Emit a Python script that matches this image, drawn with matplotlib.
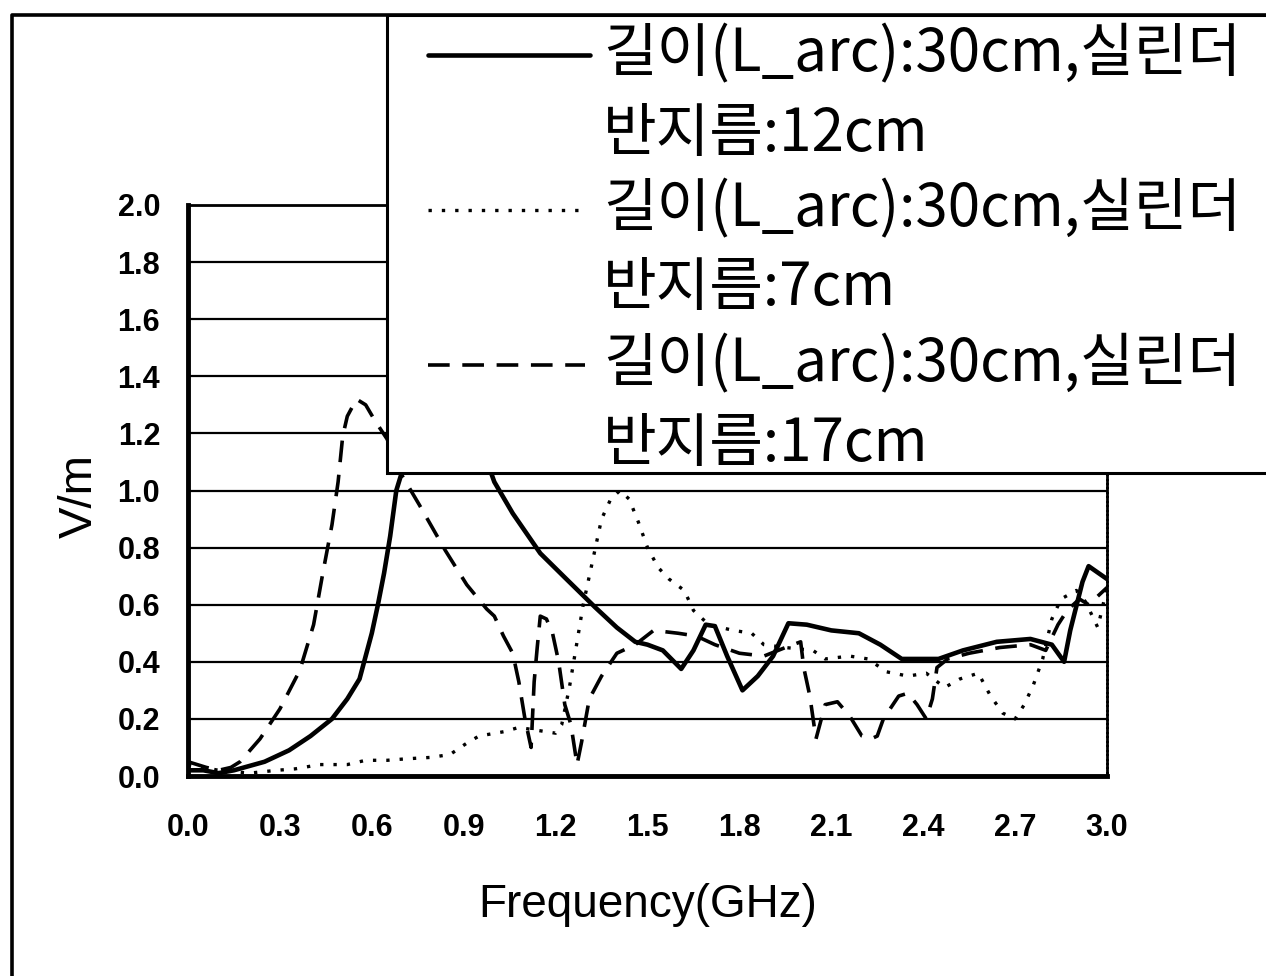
import matplotlib
matplotlib.use("Agg")
import matplotlib.pyplot as plt
from matplotlib.lines import Line2D
from matplotlib.patches import Rectangle

# --- data (frequency in GHz, field in V/m) ---
freq_12 = [0.00, 0.05, 0.10, 0.15, 0.20, 0.25, 0.33, 0.40, 0.47, 0.52, 0.56,
           0.60, 0.62, 0.64, 0.66, 0.68, 0.70, 0.72, 0.78, 0.85, 0.92, 0.97,
           1.00, 1.06, 1.15, 1.235, 1.33, 1.40, 1.46, 1.50, 1.55, 1.61, 1.65,
           1.69, 1.72, 1.76, 1.81, 1.86, 1.91, 1.96, 2.02, 2.10, 2.19, 2.26,
           2.33, 2.45, 2.53, 2.64, 2.75, 2.82, 2.86, 2.88, 2.92, 2.94, 2.98,
           3.00]
field_12 = [0.02, 0.02, 0.01, 0.02, 0.035, 0.05, 0.09, 0.14, 0.20, 0.27, 0.34,
            0.50, 0.60, 0.71, 0.84, 1.00, 1.07, 1.15, 1.40, 1.45, 1.30, 1.12,
            1.03, 0.92, 0.78, 0.69, 0.59, 0.52, 0.47, 0.46, 0.44, 0.375, 0.44,
            0.53, 0.525, 0.42, 0.30, 0.35, 0.42, 0.535, 0.53, 0.51, 0.50, 0.46,
            0.41, 0.41, 0.44, 0.47, 0.48, 0.46, 0.40, 0.51, 0.68, 0.735, 0.705,
            0.69]

freq_7 = [0.00, 0.05, 0.10, 0.20, 0.29, 0.35, 0.43, 0.52, 0.58, 0.65, 0.71,
          0.79, 0.855, 0.91, 0.95, 1.03, 1.08, 1.14, 1.20, 1.22, 1.245, 1.27,
          1.29, 1.31, 1.33, 1.35, 1.38, 1.41, 1.44, 1.47, 1.50, 1.535, 1.57,
          1.62, 1.65, 1.70, 1.78, 1.84, 1.88, 1.95, 2.04, 2.08, 2.16, 2.22,
          2.28, 2.35, 2.41, 2.47, 2.52, 2.58, 2.62, 2.66, 2.70, 2.73, 2.76,
          2.79, 2.82, 2.85, 2.90, 2.93, 2.97, 3.00]
field_7 = [0.04, 0.03, 0.02, 0.01, 0.02, 0.025, 0.04, 0.04, 0.055, 0.055, 0.06,
           0.065, 0.075, 0.115, 0.14, 0.155, 0.17, 0.16, 0.15, 0.18, 0.31, 0.47,
           0.60, 0.70, 0.80, 0.90, 0.97, 1.00, 0.97, 0.89, 0.80, 0.73, 0.69,
           0.65, 0.58, 0.53, 0.51, 0.50, 0.46, 0.45, 0.44, 0.41, 0.42, 0.41,
           0.365, 0.35, 0.36, 0.31, 0.34, 0.36, 0.28, 0.22, 0.20, 0.25, 0.32,
           0.41, 0.55, 0.62, 0.65, 0.61, 0.52, 0.66]

freq_17 = [0.00, 0.03, 0.06, 0.10, 0.14, 0.17, 0.235, 0.30, 0.365, 0.41, 0.44,
           0.47, 0.49, 0.505, 0.52, 0.55, 0.58, 0.61, 0.65, 0.70, 0.755, 0.84,
           0.91, 0.975, 1.00, 1.03, 1.06, 1.08, 1.10, 1.12, 1.13, 1.14, 1.15,
           1.17, 1.19, 1.21, 1.23, 1.25, 1.27, 1.285, 1.31, 1.35, 1.40, 1.46,
           1.52, 1.60, 1.66, 1.72, 1.80, 1.88, 1.95, 2.00, 2.01, 2.03, 2.05,
           2.08, 2.12, 2.16, 2.20, 2.23, 2.25, 2.27, 2.32, 2.35, 2.38, 2.41,
           2.43, 2.445, 2.48, 2.55, 2.65, 2.75, 2.80, 2.84, 2.87, 2.91, 2.94,
           3.00]
field_17 = [0.05, 0.04, 0.03, 0.02, 0.03, 0.05, 0.13, 0.235, 0.37, 0.53, 0.71,
            0.88, 1.03, 1.19, 1.26, 1.32, 1.30, 1.245, 1.18, 1.05, 0.95, 0.79,
            0.67, 0.585, 0.56, 0.49, 0.43, 0.33, 0.20, 0.10, 0.33, 0.45, 0.56,
            0.55, 0.50, 0.40, 0.25, 0.18, 0.04, 0.12, 0.27, 0.35, 0.43, 0.46,
            0.51, 0.50, 0.49, 0.46, 0.43, 0.42, 0.45, 0.47, 0.38, 0.28, 0.13,
            0.25, 0.26, 0.21, 0.14, 0.13, 0.14, 0.20, 0.28, 0.29, 0.25, 0.20,
            0.27, 0.38, 0.41, 0.43, 0.45, 0.46, 0.44, 0.53, 0.58, 0.62, 0.60,
            0.66]

labels = ["길이(L_arc):30cm,실린더\n반지름:12cm",
          "길이(L_arc):30cm,실린더\n반지름:7cm",
          "길이(L_arc):30cm,실린더\n반지름:17cm"]

W, H = 1266, 976


def fx(px):
    return px / W


def fy(py):
    return 1 - py / H


fig = plt.figure(figsize=(W / 100, H / 100), dpi=100)
ax = fig.add_axes([fx(188), fy(776), fx(1107) - fx(188), fy(205) - fy(776)])

solid = dict(color="black", lw=3.3, solid_capstyle="round")
dotted = dict(color="black", lw=2.4, linestyle=(0, (1, 3)))
dashed = dict(color="black", lw=2.6, linestyle=(0, (6, 3.5)))

ax.plot(freq_12, field_12, **solid, zorder=3)
ax.plot(freq_7, field_7, **dotted, zorder=3)
ax.plot(freq_17, field_17, **dashed, zorder=3)

ax.set_xlim(0, 3.0)
ax.set_ylim(0, 2.0)
ax.set_xticks([i * 0.3 for i in range(11)])
ax.set_xticklabels([f"{i * 0.3:.1f}" for i in range(11)])
ax.set_yticks([i * 0.2 for i in range(11)])
ax.set_yticklabels([f"{i * 0.2:.1f}" for i in range(11)])
ax.yaxis.grid(True, color="black", lw=1.6)
ax.set_axisbelow(True)
ax.tick_params(length=0, labelsize=22)
ax.tick_params(axis="x", pad=27)
ax.tick_params(axis="y", pad=20)
for lab in ax.get_xticklabels() + ax.get_yticklabels():
    lab.set_fontfamily("Liberation Sans")
    lab.set_fontweight("bold")

ax.spines["left"].set_linewidth(3.5)
ax.spines["bottom"].set_linewidth(3.5)
ax.spines["top"].set_linewidth(2.0)
ax.spines["right"].set_linewidth(2.0)
ax.spines["right"].set_linestyle((0, (1, 0.6)))

ax.set_xlabel("Frequency(GHz)", fontsize=33, family="Liberation Sans")
ax.xaxis.set_label_coords(0.5, -(883 - 776) / 571)
ax.set_ylabel("V/m", fontsize=34, family="Liberation Sans", va="center")
ax.yaxis.set_label_coords(-(188 - 80) / 919, 0.49)

# outer frame of the scanned figure (left and top edges only)
fig.add_artist(Line2D([fx(12), fx(12), 1.01], [0, fy(15), fy(15)],
                      transform=fig.transFigure, color="black", lw=2.6))

# legend box (covers the top of the plot)
fig.add_artist(Rectangle((fx(387), fy(473)), 1.2, fy(15) - fy(473),
                         transform=fig.transFigure, facecolor="white",
                         edgecolor="black", lw=2.2, clip_on=False, zorder=5))

kor = ["Noto Sans CJK KR", "DejaVu Sans"]
styles = [solid, dotted, dashed]
rows = [55, 210, 365]
ends = [590, 580, 585]
for style, row, end, text in zip(styles, rows, ends, labels):
    fig.add_artist(Line2D([fx(428), fx(end)], [fy(row), fy(row)],
                          transform=fig.transFigure, zorder=6, **style))
    first, second = text.split("\n")
    fig.text(fx(603), fy(row), first, fontsize=42, family=kor,
             va="center", ha="left", zorder=6)
    fig.text(fx(603), fy(row + 79), second, fontsize=42, family=kor,
             va="center", ha="left", zorder=6)

fig.savefig("out.png", dpi=100)
